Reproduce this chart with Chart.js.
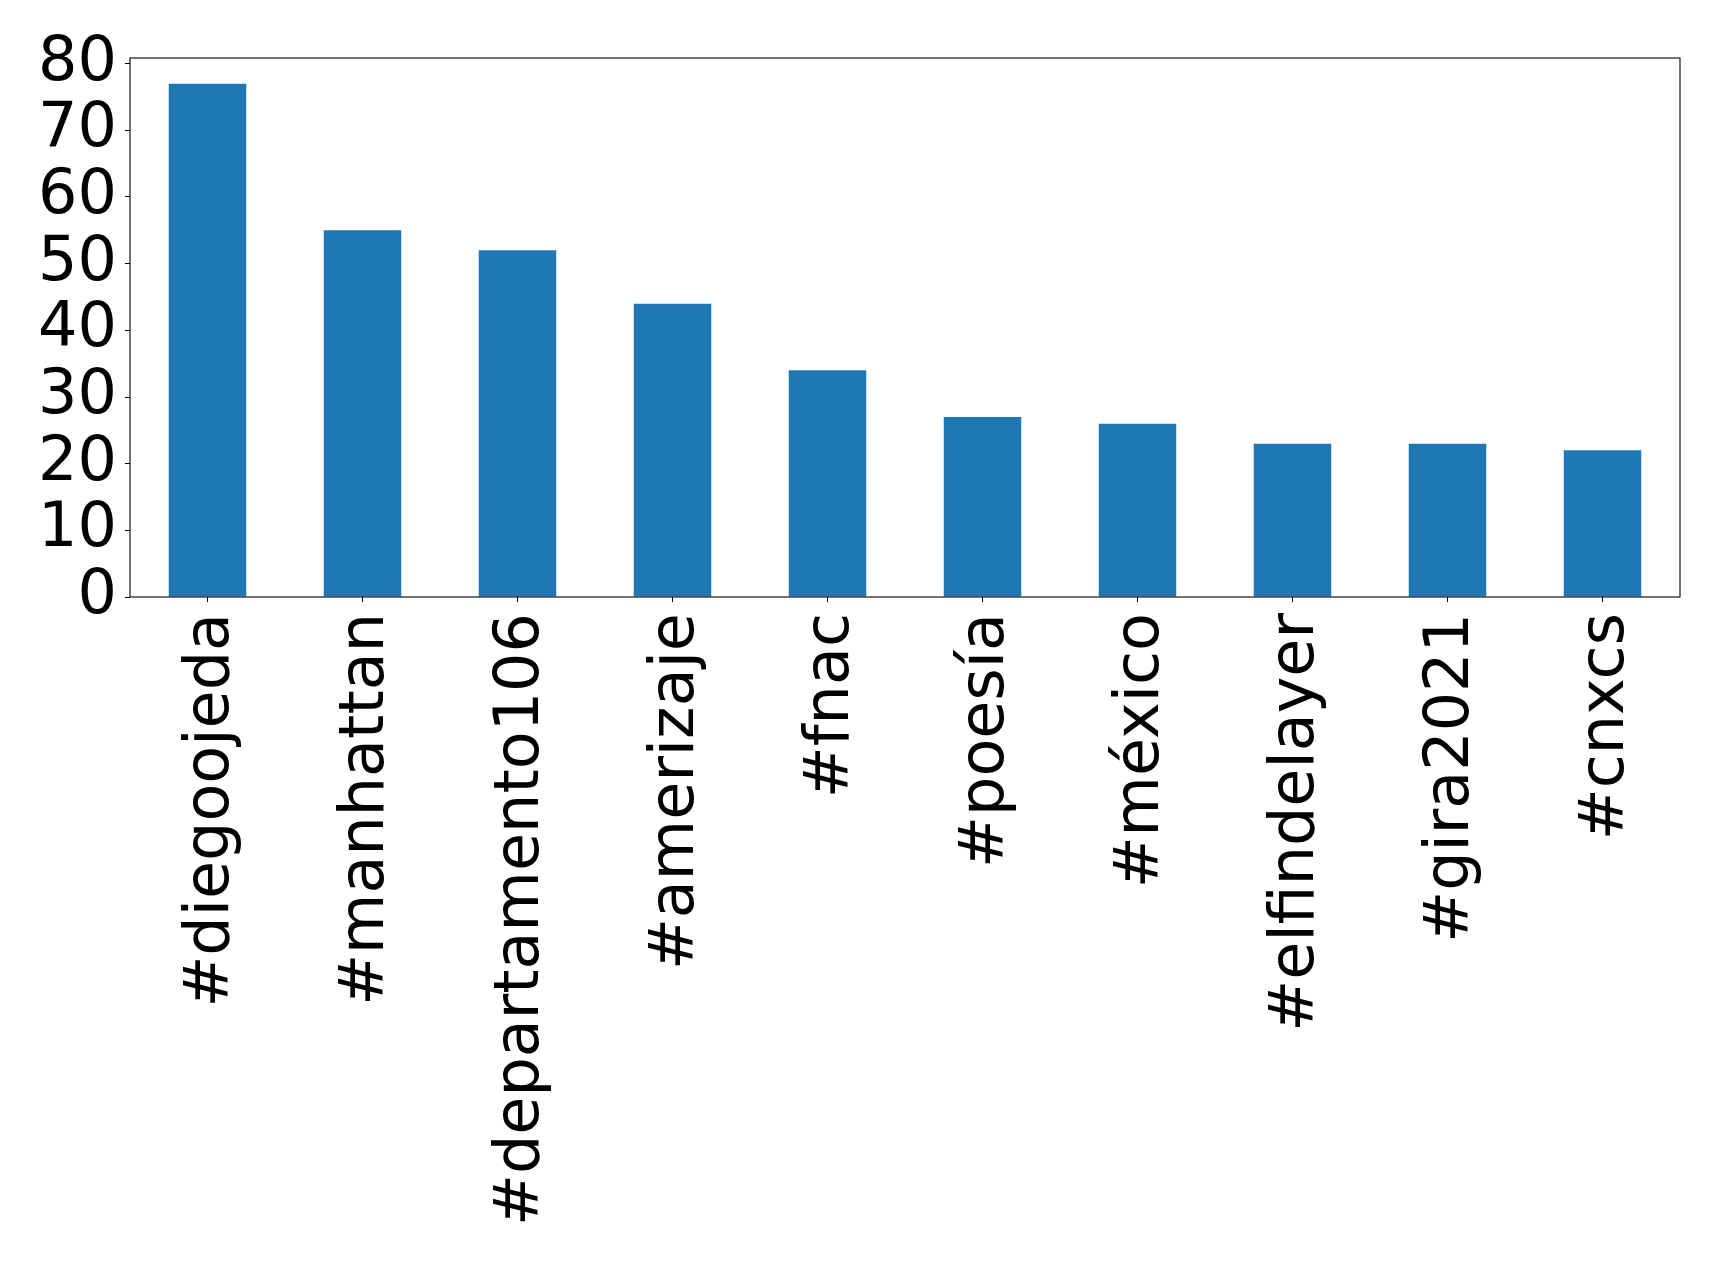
<!DOCTYPE html>
<html>
<head>
<meta charset="utf-8">
<script src="https://cdn.jsdelivr.net/npm/chart.js@4.4.1/dist/chart.umd.min.js"></script>
<style>
    html, body { margin: 0; padding: 0; background: #fff; }
    #chart { display: block; }
</style>
</head>
<body>
<canvas id="chart" width="1719" height="1264"></canvas>
<script>
    // hashtags and their counts
    const hashtags = ['#diegoojeda', '#manhattan', '#departamento106', '#amerizaje', '#fnac',
                      '#poesía', '#méxico', '#elfindelayer', '#gira2021', '#cnxcs'];
    const counts = [77, 55, 52, 44, 34, 27, 26, 23, 23, 22];
    const yTicks = [0, 10, 20, 30, 40, 50, 60, 70, 80];
    const yMax = 80.85;

    Chart.defaults.font.family = "'DejaVu Sans', sans-serif";
    Chart.defaults.color = '#000';

    // full box around the plot area (matplotlib spines)
    const frame = {
        id: 'frame',
        afterDraw(chart) {
            const a = chart.chartArea, c = chart.ctx;
            c.save();
            c.strokeStyle = '#000';
            c.lineWidth = 1.1;
            c.strokeRect(a.left, a.top, a.right - a.left, a.bottom - a.top);
            c.restore();
        }
    };

    new Chart(document.getElementById('chart'), {
        type: 'bar',
        data: {
            labels: hashtags,
            datasets: [{ data: counts, backgroundColor: '#1f77b4', barPercentage: 0.5, categoryPercentage: 1.0 }]
        },
        options: {
            responsive: false,
            animation: false,
            layout: { padding: { top: 58, right: 39, left: 0, bottom: 0 } },
            plugins: { legend: { display: false }, tooltip: { enabled: false } },
            scales: {
                x: {
                    offset: true,
                    grid: { display: true, drawOnChartArea: false, tickLength: 5, color: '#000', offset: false },
                    border: { display: false },
                    ticks: { autoSkip: false, maxRotation: 90, minRotation: 90, padding: 11, labelOffset: 4, font: { size: 62 } },
                    afterFit(s) { s.height = 667; }
                },
                y: {
                    min: 0,
                    max: yMax,
                    grid: { display: true, drawOnChartArea: false, tickLength: 5, color: '#000' },
                    border: { display: false },
                    ticks: { autoSkip: false, padding: 8, font: { size: 62 } },
                    afterBuildTicks(s) { s.ticks = yTicks.map(v => ({ value: v })); },
                    afterFit(s) { s.width = 130; }
                }
            }
        },
        plugins: [frame]
    });
</script>
</body>
</html>
